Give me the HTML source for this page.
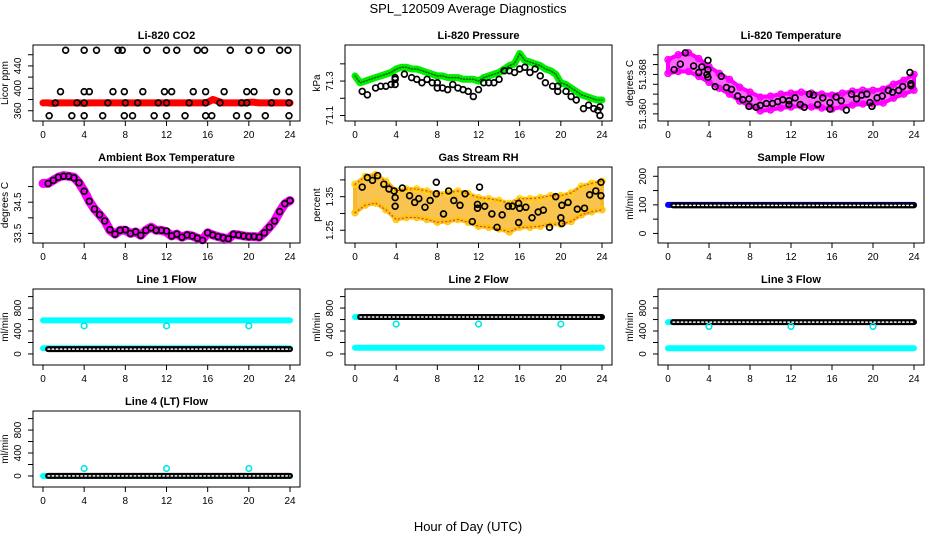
<!DOCTYPE html>
<html><head><meta charset="utf-8"><style>
html,body{margin:0;padding:0;background:#fff}
svg{display:block;font-family:"Liberation Sans",Arial,sans-serif}
</style></head><body>
<svg id="c" width="936" height="540" viewBox="0 0 936 540" xmlns="http://www.w3.org/2000/svg">
<text x="468" y="13" text-anchor="middle" font-size="13">SPL_120509  Average Diagnostics</text>
<text x="468" y="531" text-anchor="middle" font-size="13">Hour of Day (UTC)</text>
</svg>
<script>
// ---- data ----
const xTicks = [0,4,8,12,16,20,24];
const halfHours = [0,0.5,1,1.5,2,2.5,3,3.5,4,4.5,5,5.5,6,6.5,7,7.5,8,8.5,9,9.5,10,10.5,11,11.5,12,12.5,13,13.5,14,14.5,15,15.5,16,16.5,17,17.5,18,18.5,19,19.5,20,20.5,21,21.5,22,22.5,23,23.5,24];
const hours = [0,1,2,3,4,5,6,7,8,9,10,11,12,13,14,15,16,17,18,19,20,21,22,23,24];

// CO2
const co2Red = [374,374,373,374,374,374,374,374,373,374,374,374,374,374,374,374,374,374,374,374,374,374,374,374,374,374,374,374,374,374,374,374,375,380,377,374,374,374,374,374,375,375,374,374,374,374,374,374,374];
const co2HighHours = [2.2,4,5.2,7.3,7.7,10.1,12,13,15,15.7,18.2,20,21.2,23,23.8];
const co2HighVals = [468,468,468,468,468,468,468,468,468,468,468,468,468,468,468];
const co2MidHours = [1.7,4,4.5,6.8,7.9,9.7,11.8,12.5,14.6,15.8,17.6,19.8,20.5,22.7,23.9];
const co2MidVals = [394,394,394,394,394,394,394,394,394,394,394,394,394,394,394];
const co2BaseHours = [1.2,3.3,4,6.3,8,9.2,11.2,12,14.2,15.8,17.2,19.3,19.8,22.2,23.9];
const co2BaseVals = [374,374,374,374,374,374,374,374,374,374,374,374,374,374,374];
const co2LowHours = [0.6,2.8,4,5.8,7.9,8.7,10.8,12,13.8,15.8,16.4,18.8,19.9,21.6,23.9];
const co2LowVals = [351,351,351,351,351,351,351,351,351,351,351,351,351,351,351];

// Pressure
const presGreen = [71.33,71.29,71.30,71.31,71.32,71.33,71.34,71.35,71.37,71.38,71.38,71.37,71.37,71.36,71.35,71.34,71.33,71.33,71.32,71.32,71.32,71.31,71.31,71.31,71.30,71.32,71.33,71.34,71.35,71.37,71.39,71.40,71.46,71.42,71.41,71.40,71.39,71.37,71.36,71.34,71.29,71.28,71.26,71.24,71.22,71.21,71.20,71.19,71.19];
const presBlackHours = [0.7,1.2,2,2.5,3,3.5,3.9,3.9,3.9,4.8,5.5,6,6.5,7,7.5,8,8,8.5,9,9.5,10,10.5,11,11.5,12,12.5,13,13.5,14,14.5,15,15.5,16,16.5,17,17.5,18,18.5,19.2,19.7,19.7,20.5,21,21.5,22.2,22.7,23.2,23.6,23.8,23.8];
const presBlackVals = [71.24,71.22,71.26,71.27,71.27,71.28,71.28,71.31,71.32,71.34,71.32,71.31,71.29,71.31,71.29,71.29,71.26,71.26,71.25,71.28,71.26,71.25,71.24,71.21,71.25,71.29,71.29,71.29,71.31,71.36,71.36,71.35,71.37,71.38,71.35,71.37,71.33,71.29,71.27,71.24,71.27,71.24,71.21,71.19,71.14,71.16,71.14,71.13,71.10,71.15];

// Li-820 temperature
const tempHi = [51.3655,51.3660,51.3662,51.3656,51.3648,51.3641,51.3635,51.3627,51.3622,51.3617,51.3618,51.3620,51.3621,51.3622,51.3621,51.3620,51.3619,51.3621,51.3623,51.3624,51.3624,51.3625,51.3630,51.3634,51.3640];
const tempLo = [51.3641,51.3643,51.3643,51.3638,51.3632,51.3626,51.3620,51.3613,51.3608,51.3603,51.3604,51.3606,51.3607,51.3608,51.3607,51.3606,51.3605,51.3607,51.3609,51.3610,51.3610,51.3611,51.3616,51.3620,51.3624];
const tempBlackHours = [0.6,1.2,1.7,2.5,3,3.3,3.9,3.9,3.8,3.9,4.6,5.2,5.7,6.2,6.8,7.3,7.9,7.9,8.6,9,9.6,10.2,10.7,11.2,11.8,11.8,12.4,12.9,13.3,13.8,14.2,14.6,15.1,15.8,15.8,16.4,16.9,17.4,17.9,18.4,18.9,19.4,19.7,19.9,20.4,20.9,21.5,21.9,22.5,22.9,23.6,23.7,23.7];
const tempBlackVals = [51.36448,51.36505,51.36619,51.36486,51.36419,51.36476,51.36543,51.36448,51.364,51.36371,51.36276,51.36381,51.36267,51.36248,51.36181,51.36143,51.36152,51.36076,51.36067,51.36086,51.36105,51.36105,51.36124,51.36143,51.36133,51.36095,51.36162,51.36095,51.36067,51.362,51.3619,51.36095,51.36162,51.36114,51.36048,51.36171,51.36133,51.36038,51.362,51.36152,51.3619,51.362,51.36114,51.36076,51.36162,51.36181,51.36238,51.36219,51.36238,51.36276,51.36419,51.36305,51.36286];

// Ambient box temperature
const ambTemp = [35.1,35.1,35.2,35.3,35.35,35.33,35.3,35.12,34.85,34.53,34.28,34.1,33.9,33.6,33.48,33.6,33.6,33.5,33.55,33.44,33.6,33.7,33.6,33.6,33.55,33.42,33.48,33.38,33.45,33.42,33.35,33.3,33.52,33.45,33.4,33.36,33.33,33.47,33.45,33.42,33.4,33.4,33.38,33.52,33.7,33.9,34.2,34.45,34.55];
const ambBlack = [35.1,35.1,35.2,35.3,35.33,35.33,35.28,35.12,34.85,34.53,34.28,34.1,33.9,33.62,33.48,33.6,33.62,33.5,33.55,33.44,33.6,33.68,33.6,33.6,33.58,33.42,33.48,33.38,33.45,33.42,33.35,33.28,33.52,33.45,33.4,33.36,33.33,33.47,33.45,33.42,33.4,33.4,33.38,33.52,33.7,33.9,34.2,34.45,34.55];

// Gas stream RH
const rhHi = [1.387,1.410,1.416,1.396,1.367,1.373,1.373,1.367,1.359,1.361,1.367,1.359,1.347,1.344,1.339,1.330,1.344,1.344,1.347,1.353,1.353,1.361,1.381,1.390,1.396];
const rhLo = [1.302,1.325,1.331,1.311,1.282,1.288,1.288,1.282,1.274,1.276,1.282,1.274,1.262,1.259,1.254,1.245,1.259,1.259,1.262,1.268,1.268,1.276,1.296,1.305,1.311];
const rhBlackHours = [0.7,1.2,1.7,2.2,2.8,3.3,3.8,3.9,3.9,4.6,5.3,5.8,6.2,6.8,7.3,7.9,7.9,8.6,9.1,9.6,10.2,10.7,11.4,11.9,11.9,12.1,12.6,13.3,13.8,14.3,14.9,15.3,15.9,16.0,15.9,16.6,17.2,17.8,18.3,18.9,19.5,20.0,20.1,20.1,20.7,21.6,22.3,22.8,23.4,23.9,23.9];
const rhBlackVals = [1.3786,1.4071,1.3986,1.4129,1.3871,1.3729,1.3671,1.3471,1.3214,1.3757,1.3529,1.3329,1.3443,1.3186,1.3386,1.3929,1.3586,1.2986,1.3671,1.3386,1.3243,1.3586,1.2757,1.3271,1.3157,1.3786,1.3214,1.2986,1.2586,1.2957,1.3214,1.3214,1.33,1.3157,1.2729,1.3186,1.2871,1.3043,1.31,1.2586,1.35,1.2871,1.27,1.3243,1.3329,1.3129,1.3157,1.3557,1.3671,1.3529,1.3929];

// Flows (hourly)
const sampleBlue = [100,100,100,100,100,100,100,100,100,100,100,100,100,100,100,100,100,100,100,100,100,100,100,100,100];
const sampleBlack = [98,98,98,98,98,98,98,98,98,98,98,98,98,98,98,98,98,98,98,98,98,98,98,98,98];
const line1Cyan = [585,585,585,585,585,585,585,585,585,585,585,585,585,585,585,585,585,585,585,585,585,585,585,585,585];
const line1CyanLow = [100,100,100,100,100,100,100,100,100,100,100,100,100,100,100,100,100,100,100,100,100,100,100,100,100];
const line1Black = [85,85,85,85,85,85,85,85,85,85,85,85,85,85,85,85,85,85,85,85,85,85,85,85,85];
const line2Cyan = [110,110,110,110,110,110,110,110,110,110,110,110,110,110,110,110,110,110,110,110,110,110,110,110,110];
const line2Black = [645,645,645,645,645,645,645,645,645,645,645,645,645,645,645,645,645,645,645,645,645,645,645,645,645];
const line3Cyan = [100,100,100,100,100,100,100,100,100,100,100,100,100,100,100,100,100,100,100,100,100,100,100,100,100];
const line3Black = [555,555,555,555,555,555,555,555,555,555,555,555,555,555,555,555,555,555,555,555,555,555,555,555,555];
const line4Cyan = [0,0,0,0,0,0,0,0,0,0,0,0,0,0,0,0,0,0,0,0,0,0,0,0,0];
const line4Black = [2,2,2,2,2,2,2,2,2,2,2,2,2,2,2,2,2,2,2,2,2,2,2,2,2];
const outlierHours = [4,12,20];
const line1Outliers = [490,490,490];
const line2Outliers = [520,520,520];
const line3Outliers = [480,480,480];
const line4Outliers = [130,130,130];

// ---- drawing ----
const svg = document.getElementById('c');
const NS = 'http://www.w3.org/2000/svg';
function mk(tag, attrs, parent){const e=document.createElementNS(NS,tag);for(const k in attrs)e.setAttribute(k,attrs[k]);(parent||svg).appendChild(e);return e;}

const cols = [[33,300],[345,612],[658,924]];
const rows = [45,167,289,411];
const H = 76;

function panel(name, title, c, r, yMin, yMax, yTicks, yLabels, yTitle){
  const g = mk('g',{});
  
  
  const L=cols[c][0], R=cols[c][1], T=rows[r], B=T+H;
  const sx = h => L+10+(h/24)*(R-L-20);
  const sy = v => B-3-(v-yMin)/(yMax-yMin)*(H-6);
  const t = mk('text',{x:(L+R)/2,y:T-6,'text-anchor':'middle','font-size':11,'font-weight':'bold'},g);
  t.textContent = title;
  
  
  const box = mk('rect',{x:L,y:T,width:R-L,height:H,fill:'none',stroke:'#000','stroke-width':1},g);
  
  
  const xa = mk('g',{},g);
  
  
  xTicks.forEach(v=>{
    mk('line',{x1:sx(v),x2:sx(v),y1:B,y2:B+5,stroke:'#000'},xa);
    const tl = mk('text',{x:sx(v),y:B+17,'text-anchor':'middle','font-size':10},xa);
    tl.textContent = v;
  });
  const ya = mk('g',{},g);
  
  
  yTicks.forEach((v,i)=>{
    const y=sy(v);
    mk('line',{x1:L-5,x2:L,y1:y,y2:y,stroke:'#000'},ya);
    if(yLabels[i]){
      const tl = mk('text',{x:L-12,y:y,'text-anchor':'middle','font-size':10,transform:`rotate(-90 ${L-12} ${y})`},ya);
      tl.textContent = yLabels[i];
    }
  });
  const yt = mk('text',{x:L-25,y:B-H/2,'text-anchor':'middle','font-size':10,transform:`rotate(-90 ${L-25} ${B-H/2})`},g);
  yt.textContent = yTitle;
  
  
  return {g,sx,sy};
}
function pts(p, xs, ys){return xs.map((h,i)=>p.sx(h).toFixed(1)+','+p.sy(ys[i]).toFixed(1)).join(' ');}
function line(p, xs, ys, color, w, nm, dash){
  const a={points:pts(p,xs,ys),fill:'none',stroke:color,'stroke-width':w,'stroke-linejoin':'round','stroke-linecap':'round'};
  if(dash) a['stroke-dasharray']=dash;
  const e = mk('polyline',a,p.g);
  
  
  return e;
}
function circles(p, xs, ys, color, r, sw, nm){
  const gg = mk('g',{},p.g);
  
  
  xs.forEach((h,i)=>{
    const c = mk('circle',{cx:p.sx(h),cy:p.sy(ys[i]),r:r,fill:'none',stroke:color,'stroke-width':sw},gg);
    
    
  });
}
function band(p, xs, hi, lo, color, nm, op){
  const top = xs.map((h,i)=>p.sx(h).toFixed(1)+','+p.sy(hi[i]).toFixed(1));
  const bot = xs.map((h,i)=>p.sx(h).toFixed(1)+','+p.sy(lo[i]).toFixed(1)).reverse();
  const e = mk('polygon',{points:top.concat(bot).join(' '),fill:color,'fill-opacity':op||1,stroke:color,'stroke-width':4,'stroke-linejoin':'round'},p.g);
  
  
}
function dotted(p, xs, ys, nm){
  line(p, xs.map(x=>Math.max(x,0.5)), ys, '#000', 6, nm);
  line(p, xs.map(x=>Math.max(x,0.5)), ys, '#fff', 1.5, nm+'-inner', '1.5 2.6');
}

// 1 CO2
let p = panel('co2-panel','Li-820 CO2',0,0,347,472,[360,380,400,420,440,460],['360','','400','','440',''],'Licor ppm');
line(p, halfHours, co2Red, '#ff0000', 7, 'co2-red-series');
circles(p, co2HighHours, co2HighVals, '#000', 2.9, 1.7, 'co2-high-points');
circles(p, co2MidHours, co2MidVals, '#000', 2.9, 1.7, 'co2-mid-points');
circles(p, co2BaseHours, co2BaseVals, '#000', 2.9, 1.7, 'co2-base-points');
circles(p, co2LowHours, co2LowVals, '#000', 2.9, 1.7, 'co2-low-points');

// 2 Pressure
p = panel('pressure-panel','Li-820 Pressure',1,0,71.0855,71.492,[71.1,71.2,71.3,71.4],['71.1','','71.3',''],'kPa');
line(p, halfHours, presGreen, '#00ee00', 7, 'pressure-green-series');
line(p, halfHours, presGreen, '#006600', 1.5, 'pressure-green-texture', '1 2');
circles(p, presBlackHours, presBlackVals, '#000', 2.9, 1.7, 'pressure-black-points');

// 3 Li temp
p = panel('li-temp-panel','Li-820 Temperature',2,0,51.35958,51.36668,[51.360,51.361,51.362,51.363,51.364,51.365,51.366],['51.360','','','','51.368','',''],'degrees C');
band(p, hours, tempHi, tempLo, '#ff00ff', 'li-temp-magenta-cloud', 0.6);
circles(p, hours, tempHi, '#ff00ff', 3, 1.5, 'li-temp-magenta-upper');
circles(p, hours, tempLo, '#ff00ff', 3, 1.5, 'li-temp-magenta-lower');
circles(p, tempBlackHours, tempBlackVals, '#000', 2.9, 1.7, 'li-temp-black-points');

// 4 Ambient
p = panel('ambient-temp-panel','Ambient Box Temperature',0,1,33.29,35.53,[33.5,34.0,34.5,35.0],['33.5','','34.5',''],'degrees C');
line(p, halfHours, ambTemp, '#ff00ff', 9, 'ambient-magenta-series');
circles(p, halfHours.slice(1), ambBlack.slice(1), '#000', 2.9, 1.7, 'ambient-black-points');

// 5 RH
p = panel('rh-panel','Gas Stream RH',1,1,1.2209,1.4295,[1.25,1.30,1.35,1.40],['1.25','','1.35',''],'percent');
band(p, hours, rhHi, rhLo, '#f8b830', 'rh-orange-cloud', 0.85);
circles(p, hours, rhHi, '#ffdd00', 3, 1.5, 'rh-yellow-upper');
circles(p, hours, rhLo, '#ffcc00', 3, 1.5, 'rh-yellow-lower');
line(p, hours, rhHi, '#e03000', 1, 'rh-red-texture', '1 3');
line(p, hours, rhLo, '#e03000', 1, 'rh-red-texture-low', '1 3');
circles(p, rhBlackHours, rhBlackVals, '#000', 2.9, 1.7, 'rh-black-points');

// 6 Sample flow
p = panel('sample-flow-panel','Sample Flow',2,1,-23,222,[0,50,100,150,200],['0','','100','','200'],'ml/min');
line(p, hours, sampleBlue, '#0000ff', 6, 'sample-blue-series');
dotted(p, hours, sampleBlack, 'sample-black-series');

// 7-10 line flows
const flowTicks=[0,200,400,600,800,1000], flowLabels=['0','','400','','800',''];
p = panel('line1-flow-panel','Line 1 Flow',0,2,-140,1080,flowTicks,flowLabels,'ml/min');
line(p, hours, line1Cyan, '#00ffff', 6, 'line1-cyan-upper');
line(p, hours, line1CyanLow, '#00ffff', 6, 'line1-cyan-lower');
dotted(p, hours, line1Black, 'line1-black-series');
circles(p, outlierHours, line1Outliers, '#00e5e5', 2.8, 1.6, 'line1-cyan-outliers');

p = panel('line2-flow-panel','Line 2 Flow',1,2,-140,1080,flowTicks,flowLabels,'ml/min');
line(p, hours, line2Cyan, '#00ffff', 6, 'line2-cyan-series');
line(p, [0,0.5], [line2Black[0],line2Black[0]], '#00ffff', 6, 'line2-cyan-start');
dotted(p, hours, line2Black, 'line2-black-series');
circles(p, outlierHours, line2Outliers, '#00e5e5', 2.8, 1.6, 'line2-cyan-outliers');

p = panel('line3-flow-panel','Line 3 Flow',2,2,-140,1080,flowTicks,flowLabels,'ml/min');
line(p, hours, line3Cyan, '#00ffff', 6, 'line3-cyan-series');
line(p, [0,0.5], [line3Black[0],line3Black[0]], '#00ffff', 6, 'line3-cyan-start');
dotted(p, hours, line3Black, 'line3-black-series');
circles(p, outlierHours, line3Outliers, '#00e5e5', 2.8, 1.6, 'line3-cyan-outliers');

p = panel('line4-flow-panel','Line 4 (LT) Flow',0,3,-140,1080,flowTicks,flowLabels,'ml/min');
line(p, hours, line4Cyan, '#00ffff', 6, 'line4-cyan-series');
dotted(p, hours, line4Black, 'line4-black-series');
circles(p, outlierHours, line4Outliers, '#00e5e5', 2.8, 1.6, 'line4-cyan-outliers');
</script>
</body></html>
